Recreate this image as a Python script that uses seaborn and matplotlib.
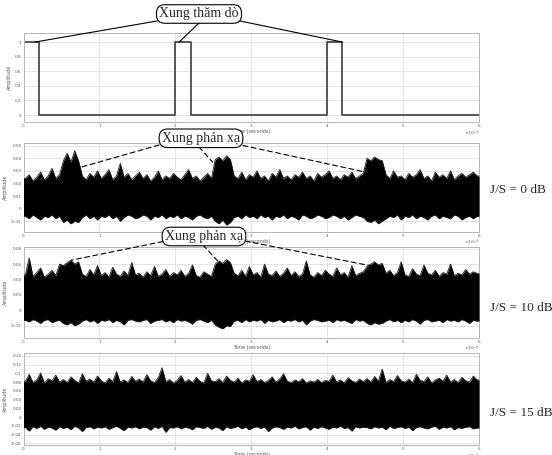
"""
Xung thăm dò và xung phản xạ dưới nhiễu gây (J/S = 0, 10, 15 dB)
"""

import numpy as np
import matplotlib
matplotlib.use("Agg")
import matplotlib.pyplot as plt
import seaborn as sns

sns.set_style("whitegrid")
plt.rcParams['font.family'] = ['DejaVu Sans']

# thời gian tính theo đơn vị 1e-4 s
T_MAX = 6
pulse_start = [0, 2, 4]
pulse_width = 0.2

# bao trên / bao dưới của tín hiệu thu (đơn vị 1e-3), 120 ô x 0.05e-4 s
upper_0db = [24, 27, 22, 25, 29, 23, 26, 32, 24, 27,
             38, 44, 37, 46, 38, 26, 23, 28, 25, 30,
             24, 27, 31, 23, 26, 36, 25, 28, 23, 26,
             29, 24, 27, 22, 25, 30, 23, 26, 24, 28,
             25, 23, 27, 31, 24, 26, 22, 25, 28, 24,
             39, 41, 38, 42, 39, 26, 24, 29, 23, 27,
             25, 30, 24, 26, 22, 28, 25, 31, 24, 26,
             23, 27, 25, 29, 24, 26, 22, 28, 25, 27,
             30, 24, 26, 23, 27, 25, 29, 24, 26, 28,
             40, 38, 41, 39, 38, 27, 24, 30, 25, 26,
             23, 28, 25, 27, 31, 24, 26, 22, 29, 25,
             27, 24, 30, 23, 26, 28, 25, 27, 29, 26]
lower_0db = [-6, -8, -5, -7, -9, -6, -7, -5, -8, -6,
             -11, -9, -12, -10, -11, -7, -5, -8, -6, -9,
             -6, -7, -5, -8, -6, -10, -7, -5, -6, -8,
             -7, -5, -6, -9, -6, -7, -5, -8, -6, -7,
             -5, -8, -6, -7, -9, -6, -5, -7, -8, -6,
             -10, -12, -9, -13, -11, -7, -6, -8, -5, -7,
             -6, -8, -5, -7, -6, -9, -6, -7, -5, -8,
             -6, -7, -9, -5, -6, -8, -7, -5, -6, -8,
             -7, -5, -6, -8, -6, -9, -7, -5, -6, -7,
             -10, -11, -9, -12, -10, -8, -6, -7, -5, -9,
             -6, -7, -5, -8, -6, -7, -9, -6, -5, -8,
             -6, -7, -8, -5, -6, -9, -7, -6, -8, -6]

upper_10db = [46, 68, 44, 49, 55, 43, 47, 52, 45, 60,
              58, 62, 65, 60, 63, 47, 44, 53, 46, 58,
              45, 49, 43, 56, 47, 44, 51, 45, 62, 46,
              48, 43, 50, 45, 57, 44, 47, 53, 44, 49,
              46, 52, 44, 48, 59, 45, 43, 50, 47, 44,
              60, 64, 61, 66, 62, 48, 45, 52, 44, 57,
              46, 49, 43, 60, 47, 45, 51, 44, 48, 55,
              45, 50, 44, 47, 64, 46, 43, 49, 45, 52,
              47, 44, 55, 46, 49, 43, 58, 45, 48, 50,
              57, 60, 63, 59, 61, 48, 52, 45, 49, 63,
              46, 44, 54, 47, 45, 59, 48, 46, 52, 44,
              49, 47, 60, 45, 48, 46, 53, 47, 50, 48]
lower_10db = [-13, -15, -12, -14, -17, -13, -12, -16, -14, -13,
              -17, -19, -16, -20, -18, -14, -12, -15, -13, -17,
              -13, -14, -12, -16, -13, -15, -19, -13, -12, -14,
              -15, -13, -12, -17, -14, -13, -12, -15, -13, -16,
              -12, -14, -13, -15, -18, -13, -12, -14, -16, -13,
              -19, -22, -24, -20, -21, -14, -13, -16, -12, -15,
              -13, -14, -12, -17, -13, -15, -14, -12, -16, -13,
              -14, -12, -15, -13, -19, -14, -12, -13, -15, -14,
              -13, -16, -12, -14, -13, -15, -17, -12, -14, -13,
              -17, -19, -16, -18, -17, -14, -12, -15, -13, -16,
              -13, -15, -12, -14, -18, -13, -12, -15, -14, -13,
              -16, -12, -14, -13, -15, -12, -14, -17, -13, -14]

upper_15db = [82, 98, 79, 85, 101, 78, 88, 83, 96, 80,
              86, 79, 92, 84, 78, 99, 82, 87, 80, 94,
              83, 78, 89, 81, 104, 80, 85, 79, 93, 82,
              87, 80, 97, 83, 79, 90, 113, 81, 86, 78,
              84, 95, 80, 86, 79, 91, 82, 78, 100, 83,
              81, 88, 79, 94, 84, 80, 89, 78, 85, 82,
              97, 81, 86, 79, 84, 92, 80, 87, 99, 82,
              79, 85, 81, 88, 78, 83, 80, 86, 79, 84,
              82, 96, 80, 85, 78, 90, 83, 79, 87, 81,
              88, 80, 93, 82, 110, 79, 86, 81, 95, 83,
              80, 87, 79, 98, 84, 81, 92, 78, 85, 89,
              82, 96, 80, 86, 79, 91, 83, 80, 94, 85]
lower_15db = [-24, -32, -22, -26, -21, -28, -23, -25, -30, -22,
              -26, -23, -29, -21, -25, -33, -24, -22, -27, -23,
              -25, -22, -28, -24, -21, -26, -31, -23, -25, -22,
              -27, -23, -24, -30, -22, -26, -21, -35, -24, -25,
              -22, -27, -23, -25, -29, -22, -24, -26, -21, -28,
              -23, -25, -31, -22, -26, -24, -21, -27, -23, -29,
              -24, -22, -26, -23, -33, -25, -22, -24, -28, -23,
              -25, -21, -27, -24, -22, -30, -23, -26, -22, -25,
              -28, -23, -25, -21, -26, -24, -32, -22, -25, -23,
              -24, -27, -22, -25, -23, -29, -21, -26, -24, -22,
              -26, -23, -31, -24, -22, -25, -27, -23, -21, -28,
              -23, -25, -22, -29, -24, -26, -23, -22, -27, -25]

js_labels = ['J/S = 0 dB', 'J/S = 10 dB', 'J/S = 15 dB']

GRID = '#dedede'
FRAME = '#b4b4b4'
TICK = '#555555'


def style_axes(ax, ylim, yticks):
    ax.set_xlim(0, T_MAX)
    ax.set_ylim(*ylim)
    ax.set_xticks(range(T_MAX + 1))
    ax.set_xticklabels([str(i) for i in range(T_MAX + 1)])
    ax.set_yticks(yticks)
    ax.set_yticklabels([f'{v:g}' for v in yticks])
    ax.tick_params(labelsize=3, colors=TICK, length=1.5, width=0.4,
                   direction='in', pad=1.5)
    ax.grid(True, color=GRID, lw=0.6)
    for sp in ax.spines.values():
        sp.set_color(FRAME)
        sp.set_linewidth(0.7)
    ax.set_ylabel('Amplitude', fontsize=3.5, color=TICK, labelpad=2)
    ax.set_xlabel('Time (seconds)', fontsize=3.5, color=TICK, labelpad=1)
    ax.text(1.0, -0.07, r'$\times10^{-4}$', transform=ax.transAxes,
            fontsize=3, color=TICK, ha='right', va='top')


def draw_noise(ax, upper, lower):
    # các giá trị bao đặt tại tâm mỗi ô thời gian
    t = (np.arange(len(upper)) + 0.5) * T_MAX / len(upper)
    t = np.concatenate([[0], t, [T_MAX]])
    up = np.array([upper[0]] + upper + [upper[-1]]) * 1e-3
    lo = np.array([lower[0]] + lower + [lower[-1]]) * 1e-3
    ax.fill_between(t, lo, up, color='black', lw=0, zorder=3)
    sns.lineplot(x=t, y=up, sort=False, estimator=None, color='#1a1a1a',
                 lw=0.6, ax=ax, zorder=3)
    sns.lineplot(x=t, y=lo, sort=False, estimator=None, color='#1a1a1a',
                 lw=0.6, ax=ax, zorder=3)


fig = plt.figure(figsize=(5.52, 4.55), dpi=100)
W, H = 552, 455
left, right = 23.5, 479
panels = [(33.3, 122), (142.7, 231.7), (246.7, 337.7), (353.3, 445)]
axes = []
for top, bot in panels:
    axes.append(fig.add_axes([left / W, 1 - bot / H, (right - left) / W, (bot - top) / H]))

# xung thăm dò
t_pulse, a_pulse = [], []
for s in pulse_start:
    t_pulse += [s, s, s + pulse_width, s + pulse_width]
    a_pulse += [0, 1, 1, 0]
t_pulse.append(T_MAX)
a_pulse.append(0)
a_pulse[0] = 1  # xung đầu tiên bắt đầu ngay tại t = 0
sns.lineplot(x=t_pulse, y=a_pulse, sort=False, estimator=None,
             color='#3c3c3c', lw=1.2, ax=axes[0])
style_axes(axes[0], (-0.095, 1.12), [0, 0.2, 0.4, 0.6, 0.8, 1])

draw_noise(axes[1], upper_0db, lower_0db)
style_axes(axes[1], (-0.0183, 0.0524), [-0.01, 0, 0.01, 0.02, 0.03, 0.04, 0.05])

draw_noise(axes[2], upper_10db, lower_10db)
style_axes(axes[2], (-0.0356, 0.0826), [-0.02, 0, 0.02, 0.04, 0.06, 0.08])

draw_noise(axes[3], upper_15db, lower_15db)
style_axes(axes[3], (-0.064, 0.146), [-0.06, -0.04, -0.02, 0, 0.02, 0.04, 0.06,
                                       0.08, 0.1, 0.12, 0.14])

# nhãn J/S bên phải
for lab, y in zip(js_labels, [190, 308, 413]):
    fig.text(490 / W, 1 - y / H, lab, fontsize=9.5, family='Liberation Serif',
             ha='left', va='center')


def callout(text, cx, cy, starts, targets, ax, dashed):
    fig.text(cx / W, 1 - cy / H, text, fontsize=10, family='Liberation Serif',
             ha='center', va='center', zorder=10,
             bbox=dict(boxstyle='round,pad=0.2,rounding_size=0.6', fc='white',
                       ec='black', lw=0.8))
    ls = (0, (4.5, 3)) if dashed else '-'
    for (sx, sy), (tx, ty) in zip(starts, targets):
        ax.annotate('', xy=(tx, ty), xycoords='data',
                    xytext=(sx, H - sy), textcoords='figure pixels',
                    annotation_clip=False, zorder=9,
                    arrowprops=dict(arrowstyle='-', lw=0.8, color='black',
                                    linestyle=ls, shrinkA=0, shrinkB=0))


callout('Xung thăm dò', 199, 14,
        [(157, 21), (199, 23), (240, 21)],
        [(0.15, 1), (2.05, 1), (4.2, 1)], axes[0], False)
callout('Xung phản xạ', 201, 138.3,
        [(159, 145), (199, 147), (243, 145.5)],
        [(0.73, 0.0325), (2.49, 0.037), (4.48, 0.0294)], axes[1], True)
callout('Xung phản xạ', 204, 236.5,
        [(163, 241.5), (203, 245), (245, 241)],
        [(0.625, 0.065), (2.56, 0.0638), (4.6, 0.0573)], axes[2], True)

fig.savefig('out.png', dpi=100)
